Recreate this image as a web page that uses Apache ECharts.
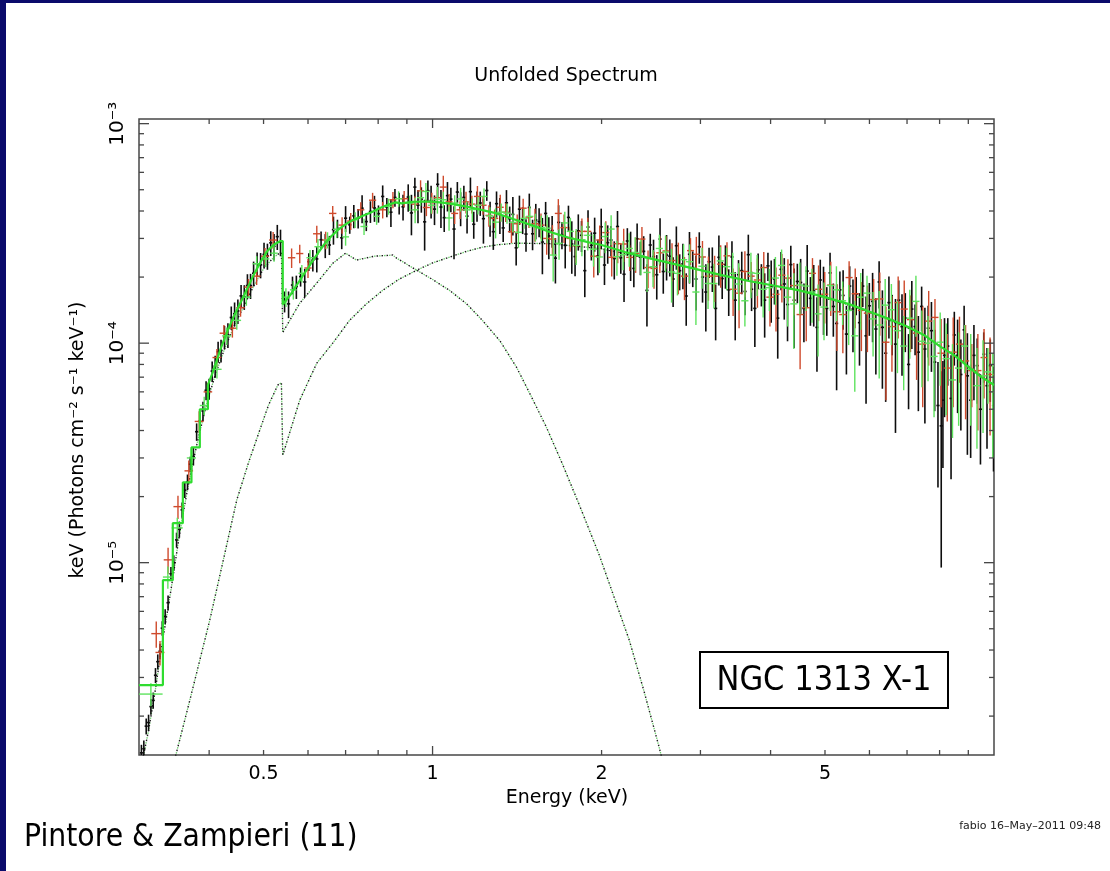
<!DOCTYPE html>
<html>
<head>
<meta charset="utf-8">
<script src="https://cdn.jsdelivr.net/npm/echarts@6.0.0/dist/echarts.min.js"></script>
<style>
  html, body { margin: 0; padding: 0; background: #ffffff; }
  #chart { width: 1110px; height: 871px; }
</style>
</head>
<body>
<div id="chart"></div>
<script>
// Unfolded X-ray spectrum of NGC 1313 X-1: E F(E) vs energy, three detectors,
// best-fit model and its two additive components.

// Flux values below are in units of 1e-4 keV (photons cm^-2 s^-1 keV^-1).
const FLUX_UNIT = 1e-4;

// Detector 1 (black): [energy keV, flux, 1-sigma error]
const blackPts = [
  [0.303,0.0136,0.0012],[0.306,0.0142,0.0013],[0.309,0.0180,0.0015],[0.312,0.0187,0.0016],[0.315,0.0221,0.0018],
  [0.318,0.0236,0.0020],[0.321,0.0307,0.0024],[0.324,0.0354,0.0028],[0.327,0.0395,0.0032],[0.330,0.0503,0.0038],
  [0.334,0.0569,0.0045],[0.338,0.0657,0.0052],[0.342,0.0890,0.0065],[0.346,0.100,0.008],[0.350,0.127,0.010],
  [0.354,0.142,0.012],[0.358,0.174,0.014],[0.362,0.214,0.017],[0.366,0.233,0.019],[0.370,0.281,0.023],
  [0.375,0.305,0.028],[0.380,0.395,0.036],[0.385,0.441,0.042],[0.390,0.491,0.050],[0.395,0.610,0.060],
  [0.400,0.620,0.068],[0.405,0.746,0.080],[0.410,0.786,0.090],[0.415,0.915,0.100],[0.420,0.926,0.110],
  [0.426,1.068,0.13],[0.432,1.091,0.14],[0.438,1.309,0.16],[0.444,1.362,0.17],[0.450,1.402,0.18],
  [0.456,1.642,0.20],[0.462,1.627,0.21],[0.468,1.831,0.23],[0.474,1.829,0.24],[0.480,2.083,0.27],
  [0.487,2.297,0.29],[0.494,2.274,0.30],[0.501,2.537,0.33],[0.508,2.499,0.34],[0.515,2.864,0.37],
  [0.522,2.762,0.38],[0.529,3.057,0.40],[0.536,2.888,0.40],
  [0.545,1.55,0.17],[0.554,1.51,0.21],[0.563,1.84,0.17],[0.572,1.81,0.22],[0.582,2.01,0.20],
  [0.592,1.90,0.28],[0.602,2.35,0.22],[0.612,2.39,0.27],[0.622,2.42,0.32],[0.633,2.96,0.27],
  [0.644,2.79,0.35],[0.655,2.80,0.28],[0.666,3.29,0.48],[0.677,3.33,0.32],[0.689,3.02,0.34],
  [0.700,3.71,0.50],[0.712,3.46,0.31],[0.724,3.80,0.46],[0.737,3.71,0.38],[0.749,4.12,0.60],
  [0.762,3.58,0.34],[0.775,3.98,0.45],[0.788,4.13,0.56],[0.801,3.89,0.35],[0.815,4.66,0.57],
  [0.829,4.17,0.42],[0.843,3.95,0.57],[0.857,4.61,0.43],[0.872,4.35,0.49],[0.886,4.18,0.56],
  [0.905,4.63,0.66],[0.917,3.92,0.82],[0.930,5.14,0.53],[0.942,4.25,0.73],[0.955,4.53,0.60],
  [0.968,3.57,0.93],[0.981,4.95,0.56],[0.994,4.46,0.76],[1.008,4.08,0.63],[1.021,5.29,0.66],
  [1.035,4.17,0.82],[1.049,3.73,0.52],[1.063,4.70,0.72],[1.078,4.53,0.58],[1.092,3.31,0.90],
  [1.107,4.88,0.54],[1.122,4.14,0.73],[1.137,4.61,0.60],[1.152,3.79,0.63],[1.168,4.90,0.78],
  [1.184,3.48,0.49],[1.200,4.24,0.67],[1.216,4.35,0.55],[1.232,3.69,0.85],[1.249,4.96,0.51],
  [1.266,3.73,0.68],[1.283,3.22,0.56],[1.300,4.32,0.59],[1.318,3.86,0.72],[1.336,3.35,0.46],
  [1.354,4.36,0.62],[1.372,3.69,0.50],[1.390,3.86,0.77],[1.409,2.72,0.46],[1.428,4.08,0.62],
  [1.447,3.65,0.51],[1.467,3.14,0.53],[1.487,4.15,0.65],[1.507,3.15,0.50],[1.527,3.64,0.67],
  [1.548,3.58,0.54],[1.569,2.89,0.83],[1.590,3.90,0.50],[1.611,3.08,0.67],[1.633,3.26,0.54],
  [1.655,2.44,0.57],[1.677,3.55,0.70],[1.700,3.12,0.44],[1.723,2.79,0.60],[1.746,3.74,0.49],
  [1.770,2.83,0.76],[1.794,2.48,0.46],[1.818,3.25,0.61],[1.842,3.10,0.50],[1.867,2.14,0.52],
  [1.892,3.38,0.65],[1.918,2.79,0.41],[1.944,3.17,0.56],[1.970,2.50,0.46],[1.997,3.39,0.71],
  [2.024,2.27,0.43],[2.051,2.87,0.57],[2.079,2.95,0.47],[2.107,2.43,0.48],[2.135,3.40,0.60],
  [2.164,2.45,0.38],[2.193,2.06,0.52],[2.223,2.92,0.42],[2.253,2.57,0.65],[2.283,2.19,0.39],
  [2.314,2.99,0.52],[2.345,2.47,0.43],[2.377,2.62,0.45],[2.409,1.74,0.55],[2.442,2.80,0.35],
  [2.475,2.48,0.48],[2.508,2.05,0.47],[2.542,2.98,0.73],[2.576,2.12,0.44],[2.611,2.52,0.59],
  [2.646,2.49,0.48],[2.682,1.96,0.50],[2.718,2.78,0.62],[2.755,2.14,0.40],[2.792,2.30,0.54],
  [2.830,1.64,0.44],[2.868,2.54,0.67],[2.907,2.21,0.41],[2.946,1.96,0.55],[2.986,2.75,0.45],
  [3.026,2.00,0.47],[3.067,1.71,0.58],[3.108,2.35,0.37],[3.150,2.22,0.51],[3.193,1.44,0.41],
  [3.236,2.46,0.63],[3.280,1.97,0.38],[3.324,2.28,0.51],[3.369,1.75,0.42],[3.414,2.47,0.44],
  [3.460,1.57,0.54],[3.507,2.05,0.34],[3.554,2.14,0.47],[3.602,1.72,0.38],[3.651,2.53,0.59],
  [3.700,1.76,0.36],[3.750,1.44,0.48],[3.801,2.16,0.40],[3.852,1.88,0.41],[3.904,1.57,0.51],
  [3.957,2.25,0.33],[4.010,1.81,0.57],[4.064,1.96,0.46],[4.119,1.30,0.45],[4.175,2.17,0.43],
  [4.231,1.86,0.58],[4.288,1.50,0.48],[4.346,2.28,0.50],[4.405,1.57,0.62],[4.464,1.91,0.39],
  [4.525,1.89,0.53],[4.586,1.44,0.43],[4.648,2.13,0.67],[4.710,1.60,0.40],[4.774,1.73,0.54],
  [4.838,1.18,0.44],[4.904,1.94,0.46],[4.970,1.66,0.57],[5.037,1.44,0.36],[5.105,2.09,0.49],
  [5.174,1.47,0.40],[5.244,1.23,0.62],[5.315,1.75,0.37],[5.386,1.65,0.50],[5.459,1.10,0.38],
  [5.533,1.82,0.42],[5.608,1.43,0.52],[5.683,1.67,0.33],[5.760,1.24,0.45],[5.838,1.82,0.36],
  [5.917,1.08,0.55],[5.997,1.48,0.40],[6.078,1.55,0.54],[6.160,1.16,0.44],[6.243,1.90,0.46],
  [6.327,1.18,0.56],[6.413,0.90,0.36],[6.499,1.53,0.48],[6.587,1.27,0.39],[6.676,0.99,0.60],
  [6.766,1.57,0.36],[6.857,1.19,0.48],[6.950,1.30,0.39],[7.044,0.80,0.30],[7.139,1.43,0.49],
  [7.235,1.19,0.31],[7.333,0.91,0.42],[7.432,1.47,0.34],[7.532,0.94,0.51],[7.634,1.17,0.31],
  [7.737,1.14,0.40],[7.841,0.82,0.33],[7.947,0.52,0.30],[8.054,0.42,0.325],[8.110,0.55,0.28],
  [8.163,0.88,0.42],[8.273,0.97,0.33],[8.385,0.56,0.32],[8.498,1.09,0.30],[8.613,0.88,0.40],
  [8.729,0.72,0.32],[8.847,1.15,0.33],[8.966,0.71,0.40],[9.087,0.55,0.25],[9.210,0.88,0.33],
  [9.334,0.79,0.26],[9.460,0.50,0.22],[9.588,0.89,0.23],[9.717,0.64,0.31],[9.848,0.79,0.25],
  [9.981,0.52,0.26]
];

// Detector 2 (red): [energy keV, bin half-width keV, flux, error]
const redPts = [
  [0.322,0.0065,0.0475,0.0065],[0.327,0.0060,0.0390,0.0050],[0.338,0.0060,0.103,0.014],[0.352,0.0065,0.180,0.022],
  [0.368,0.0065,0.262,0.030],[0.384,0.0070,0.44,0.05],[0.398,0.0070,0.60,0.06],[0.413,0.0075,0.86,0.08],
  [0.425,0.0075,1.11,0.10],[0.440,0.0075,1.17,0.11],[0.455,0.0080,1.45,0.13],[0.470,0.0080,1.80,0.16],
  [0.486,0.0080,2.02,0.18],[0.503,0.0085,2.49,0.22],[0.520,0.0085,2.95,0.26],
  [0.561,0.0085,2.45,0.25],[0.580,0.0085,2.56,0.25],[0.600,0.0090,2.20,0.22],[0.622,0.0095,3.15,0.28],
  [0.645,0.0095,2.95,0.27],[0.664,0.0100,3.90,0.32],[0.690,0.0100,3.45,0.30],[0.715,0.0105,3.60,0.32],
  [0.745,0.0110,4.05,0.34],[0.782,0.0115,4.48,0.36],[0.815,0.0120,4.05,0.35],[0.850,0.0125,4.50,0.38],
  [0.890,0.0130,4.55,0.38],[0.930,0.0135,4.30,0.37],[0.975,0.0140,4.15,0.36],[1.020,0.0150,4.60,0.40],
  [1.070,0.0155,4.40,0.38],[1.120,0.0165,4.05,0.37],[1.175,0.0170,4.30,0.40],[1.230,0.0180,4.25,0.40],
  [1.290,0.0190,3.70,0.36],[1.350,0.0200,3.95,0.39],[1.415,0.0210,3.50,0.36],[1.485,0.0220,3.75,0.40],
  [1.560,0.0230,3.45,0.45],[1.635,0.0240,2.98,0.47],[1.715,0.0255,3.36,0.50],[1.800,0.0265,2.78,0.46],
  [1.890,0.0280,3.23,0.50],[1.985,0.0290,2.95,0.49],[2.085,0.0310,2.46,0.45],[2.190,0.0320,2.83,0.49],
  [2.300,0.0340,2.56,0.47],[2.420,0.0360,2.21,0.43],[2.540,0.0370,2.58,0.49],[2.670,0.0390,2.38,0.47],
  [2.810,0.0410,2.02,0.45],[2.950,0.0430,2.54,0.51],[3.100,0.0460,2.02,0.46],[3.260,0.0480,2.29,0.50],
  [3.430,0.0500,1.76,0.43],[3.600,0.0530,2.12,0.50],[3.790,0.0560,1.94,0.49],[3.990,0.0590,1.62,0.43],
  [4.190,0.0620,2.04,0.51],[4.400,0.0650,1.83,0.49],[4.630,0.0680,1.45,0.43],[4.870,0.0720,1.76,0.50],
  [5.120,0.0760,1.84,0.51],[5.380,0.0800,1.35,0.45],[5.660,0.0840,1.68,0.51],[5.950,0.0880,1.37,0.46],
  [6.260,0.0930,1.59,0.51],[6.580,0.0970,1.19,0.45],[6.920,0.1020,1.43,0.50],[7.280,0.1080,1.11,0.43],
  [7.650,0.1130,1.26,0.47],[8.050,0.1190,0.90,0.39],[8.460,0.1250,0.91,0.40],[8.900,0.1310,0.83,0.38],
  [9.360,0.1380,0.75,0.35],[9.840,0.1450,0.72,0.34],
  [0.952,0.0135,4.94,0.58],[0.997,0.0140,4.37,0.48],[1.045,0.0150,5.14,0.65],[1.095,0.0155,3.90,0.41],
  [1.147,0.0165,4.40,0.50],[1.202,0.0170,4.66,0.54],[1.260,0.0180,3.82,0.43],[1.320,0.0190,4.16,0.58],
  [1.382,0.0200,3.22,0.36],[1.450,0.0210,4.12,0.43],[1.522,0.0220,3.50,0.60],[1.597,0.0230,3.00,0.47],
  [1.675,0.0240,3.90,0.63],[1.757,0.0255,3.00,0.39],[1.845,0.0265,3.23,0.47],[1.937,0.0280,2.49,0.50],
  [2.035,0.0290,3.19,0.40],[2.137,0.0310,2.84,0.53],[2.245,0.0320,2.46,0.33],[2.360,0.0340,2.98,0.40],
  [2.480,0.0360,2.19,0.42],[2.605,0.0370,2.63,0.44],[2.740,0.0390,2.27,0.60],[2.880,0.0410,2.64,0.37],
  [3.025,0.0430,2.47,0.45],[3.180,0.0460,2.02,0.48],[3.345,0.0480,2.50,0.38],[3.515,0.0500,1.69,0.52],
  [3.695,0.0530,2.02,0.32],[3.890,0.0560,2.21,0.39],[4.090,0.0590,1.67,0.54],[4.295,0.0620,1.98,0.43],
  [4.515,0.0650,1.35,0.59],[4.750,0.0680,2.08,0.36],[4.995,0.0720,1.67,0.44],[5.250,0.0760,1.39,0.47],
  [5.520,0.0800,1.99,0.37],[5.805,0.0840,1.41,0.49],[6.105,0.0880,1.58,0.38],[6.420,0.0930,1.01,0.46],
  [6.750,0.0970,1.53,0.48],[7.100,0.1020,1.28,0.37],[7.465,0.1080,0.99,0.48],[7.850,0.1130,1.31,0.28],
  [8.255,0.1190,0.77,0.33],[8.680,0.1250,0.99,0.33],[9.130,0.1310,0.75,0.24],[9.600,0.1380,0.86,0.30]
];

// Detector 3 (green): [energy keV, bin half-width keV, flux, error]
const greenPts = [
  [0.315,0.0155,0.0252,0.0030],[0.3377,0.0068,0.086,0.010],[0.351,0.0080,0.144,0.016],[0.372,0.0070,0.300,0.030],
  [0.392,0.0070,0.52,0.05],[0.413,0.0080,0.76,0.07],[0.430,0.0080,1.08,0.10],[0.448,0.0080,1.27,0.12],
  [0.466,0.0080,1.62,0.14],[0.486,0.0080,2.30,0.19],[0.504,0.0080,2.42,0.20],[0.522,0.0080,2.57,0.22],
  [0.548,0.0070,1.62,0.16],[0.565,0.0080,1.75,0.17],[0.585,0.0080,2.08,0.19],[0.605,0.0090,2.45,0.21],
  [0.625,0.0090,2.75,0.23],[0.650,0.0090,2.95,0.25],[0.675,0.0100,3.30,0.28],[0.700,0.0100,3.05,0.27],
  [0.728,0.0100,3.65,0.30],[0.755,0.0110,3.40,0.29],[0.795,0.0110,3.78,0.32],[0.835,0.0120,4.20,0.35],
  [0.870,0.0130,4.55,0.37],[0.910,0.0130,4.35,0.35],[0.952,0.0140,4.60,0.38],[0.995,0.0140,4.25,0.36],
  [1.045,0.0150,4.50,0.39],[1.095,0.0160,4.35,0.37],[1.150,0.0170,4.05,0.36],[1.205,0.0180,4.25,0.39],
  [1.265,0.0190,3.80,0.36],[1.325,0.0200,3.95,0.38],[1.390,0.0210,3.55,0.35],[1.455,0.0220,3.70,0.38],
  [1.525,0.0230,3.40,0.49],[1.600,0.0240,3.34,0.49],[1.680,0.0250,2.85,0.45],[1.760,0.0260,3.23,0.49],
  [1.845,0.0280,2.96,0.47],[1.935,0.0290,2.68,0.45],[2.030,0.0300,3.06,0.49],[2.130,0.0320,2.48,0.45],
  [2.240,0.0340,2.70,0.47],[2.350,0.0350,2.50,0.46],[2.470,0.0370,2.23,0.43],[2.600,0.0390,2.60,0.49],
  [2.730,0.0410,2.08,0.43],[2.870,0.0430,2.35,0.47],[3.020,0.0450,2.24,0.47],[3.170,0.0480,1.87,0.43],
  [3.340,0.0500,2.23,0.49],[3.510,0.0530,1.86,0.45],[3.690,0.0550,2.09,0.49],[3.880,0.0580,1.76,0.45],
  [4.080,0.0610,1.98,0.49],[4.290,0.0640,1.62,0.43],[4.510,0.0680,1.84,0.49],[4.740,0.0710,1.71,0.47],
  [4.980,0.0750,1.46,0.43],[5.240,0.0790,1.75,0.49],[5.510,0.0830,1.41,0.43],[5.790,0.0870,1.62,0.47],
  [6.090,0.0910,1.29,0.42],[6.400,0.0960,1.49,0.47],[6.730,0.1010,1.14,0.41],[7.080,0.1060,1.30,0.45],
  [7.440,0.1120,1.02,0.39],[7.820,0.1170,0.87,0.41],[8.220,0.1230,0.85,0.38],[8.650,0.1300,0.77,0.35],
  [9.090,0.1360,0.76,0.34],[9.560,0.1430,0.71,0.32],[9.950,0.0500,0.60,0.30],
  [0.931,0.0135,4.05,0.53],[0.973,0.0140,4.91,0.45],[1.020,0.0150,4.52,0.63],[1.070,0.0155,3.72,0.47],
  [1.122,0.0160,4.54,0.56],[1.177,0.0170,4.06,0.50],[1.235,0.0180,4.66,0.41],[1.295,0.0190,3.56,0.56],
  [1.357,0.0200,3.91,0.41],[1.422,0.0210,3.20,0.48],[1.490,0.0220,3.78,0.42],[1.562,0.0230,3.36,0.45],
  [1.640,0.0240,2.52,0.61],[1.720,0.0250,3.53,0.44],[1.802,0.0260,2.79,0.52],[1.890,0.0280,3.10,0.46],
  [1.982,0.0290,2.47,0.38],[2.080,0.0300,3.31,0.52],[2.185,0.0320,2.53,0.38],[2.295,0.0340,2.59,0.45],
  [2.410,0.0350,2.10,0.39],[2.535,0.0370,2.70,0.42],[2.665,0.0390,2.11,0.58],[2.800,0.0410,2.40,0.42],
  [2.945,0.0430,1.71,0.50],[3.095,0.0450,1.87,0.44],[3.255,0.0480,2.37,0.37],[3.425,0.0500,2.08,0.50],
  [3.600,0.0530,1.56,0.37],[3.785,0.0550,2.08,0.44],[3.980,0.0580,1.79,0.39],[4.185,0.0610,2.26,0.41],
  [4.400,0.0640,1.51,0.57],[4.625,0.0680,1.82,0.42],[4.860,0.0710,1.36,0.49],[5.110,0.0750,1.83,0.43],
  [5.375,0.0790,1.56,0.35],[5.650,0.0830,1.08,0.48],[5.940,0.0870,1.69,0.34],[6.245,0.0910,1.21,0.52],
  [6.565,0.0960,1.42,0.44],[6.905,0.1010,0.97,0.36],[7.260,0.1060,1.55,0.48],[7.630,0.1120,1.00,0.33],
  [8.020,0.1170,1.01,0.37],[8.435,0.1230,0.68,0.31],[8.870,0.1300,0.97,0.24],[9.325,0.1360,0.64,0.31],
  [9.755,0.1430,0.74,0.21]
];

// Total model (binned at low energy), [energy keV, flux]
const modelPts = [
  [0.300,0.0277],[0.3309,0.0277],[0.3309,0.0832],[0.3446,0.0832],[0.3446,0.1513],[0.3591,0.1513],
  [0.3591,0.232],[0.372,0.232],[0.372,0.335],[0.385,0.335],[0.385,0.50],[0.398,0.50],[0.398,0.646],
  [0.405,0.724],[0.410,0.794],[0.420,0.955],[0.432,1.148],[0.444,1.349],[0.456,1.549],[0.468,1.778],
  [0.480,2.042],[0.494,2.344],[0.508,2.630],[0.522,2.818],[0.536,2.917],[0.541,2.92],[0.541,1.50],
  [0.545,1.50],[0.560,1.68],[0.580,1.93],[0.600,2.20],[0.620,2.50],[0.640,2.80],[0.660,3.07],
  [0.680,3.30],[0.700,3.48],[0.720,3.63],[0.750,3.80],[0.780,3.96],[0.810,4.15],[0.840,4.30],
  [0.860,4.38],[0.880,4.33],[0.920,4.40],[0.960,4.42],[1.00,4.41],[1.05,4.36],[1.10,4.28],
  [1.15,4.19],[1.20,4.09],[1.30,3.90],[1.40,3.66],[1.50,3.45],[1.60,3.24],[1.75,3.02],[1.90,2.88],
  [2.00,2.80],[2.20,2.60],[2.43,2.44],[2.70,2.29],[3.00,2.15],[3.30,2.03],[3.66,1.92],[4.00,1.84],
  [4.50,1.74],[5.00,1.62],[5.50,1.51],[5.92,1.41],[6.50,1.29],[7.00,1.19],[7.50,1.09],[8.00,0.97],
  [8.50,0.88],[9.00,0.78],[9.50,0.70],[10.0,0.645]
];

// Soft thermal (disc) component
const discPts = [
  [0.303,0.0119],[0.312,0.0172],[0.321,0.0266],[0.330,0.0431],[0.342,0.075],[0.354,0.133],[0.366,0.216],
  [0.380,0.342],[0.395,0.518],[0.410,0.715],[0.426,0.94],[0.444,1.21],[0.462,1.49],[0.480,1.82],
  [0.501,2.20],[0.522,2.47],[0.538,2.60],[0.541,2.60],[0.541,1.12],[0.545,1.12],[0.580,1.52],
  [0.622,1.88],[0.664,2.31],[0.700,2.57],[0.712,2.50],[0.732,2.39],[0.788,2.49],[0.849,2.52],
  [0.863,2.44],[0.937,2.15],[1.00,1.95],[1.072,1.74],[1.15,1.51],[1.227,1.27],[1.32,1.02],
  [1.411,0.777],[1.50,0.57],[1.595,0.414],[1.70,0.285],[1.826,0.183],[1.982,0.108],[2.10,0.071],
  [2.241,0.0443],[2.38,0.026],[2.535,0.0143],[2.60,0.011]
];

// Hard (comptonised) component
const hardPts = [
  [0.345,0.0119],[0.350,0.0137],[0.3695,0.0236],[0.401,0.0547],[0.424,0.103],[0.448,0.193],[0.470,0.285],
  [0.492,0.40],[0.510,0.52],[0.530,0.644],[0.538,0.66],[0.541,0.66],[0.541,0.309],[0.545,0.315],
  [0.580,0.55],[0.622,0.811],[0.664,1.0],[0.712,1.273],[0.76,1.50],[0.815,1.74],[0.87,1.95],
  [0.937,2.15],[1.00,2.32],[1.072,2.465],[1.15,2.62],[1.227,2.737],[1.31,2.81],[1.411,2.855],
  [1.615,2.84],[1.982,2.70],[2.43,2.43],[3.00,2.15],[3.66,1.92],[4.50,1.74],[5.92,1.41],[7.50,1.09],
  [8.50,0.88],[10.0,0.645]
];

// Axis ticks and labels
const xMinorTicks = [0.4, 0.5, 0.6, 0.7, 0.8, 0.9, 2, 3, 4, 5, 6, 7, 8, 9];
const xMajorTicks = [1];
const xTickLabels = [0.5, 1, 2, 5];
const yMajorTicks = [1e-5, 1e-4, 1e-3];
const yMinorTicks = [
  2e-6, 3e-6, 4e-6, 5e-6, 6e-6, 7e-6, 8e-6, 9e-6,
  2e-5, 3e-5, 4e-5, 5e-5, 6e-5, 7e-5, 8e-5, 9e-5,
  2e-4, 3e-4, 4e-4, 5e-4, 6e-4, 7e-4, 8e-4, 9e-4
];
const yTickLabels = { '1e-5': '10\u207B\u2075', '1e-4': '10\u207B\u2074', '1e-3': '10\u207B\u00B3' };

const X_MIN = 0.3, X_MAX = 10;
const Y_MIN = 1.33e-6, Y_MAX = 1.05e-3;

const FONT = '"DejaVu Sans", "Liberation Sans", sans-serif';
const AXIS_COLOR = '#474747';

function errorBars(name, pts, withWidth, color, lw, capPx, z) {
  const data = pts.map(p => withWidth
    ? [p[0], p[2] * FLUX_UNIT, p[1], p[3] * FLUX_UNIT]
    : [p[0], p[1] * FLUX_UNIT, 0, p[2] * FLUX_UNIT]);
  return {
    name, type: 'custom', coordinateSystem: 'cartesian2d', clip: true, z,
    data, encode: { x: 0, y: 1 }, silent: true,
    renderItem(params, api) {
      const e = api.value(0), f = api.value(1), de = api.value(2), err = api.value(3);
      const c = api.coord([e, f]);
      const lo = api.coord([e, Math.max(f - err, 1e-12)]);
      const hi = api.coord([e, f + err]);
      let xl = c[0] - capPx, xr = c[0] + capPx;
      if (de > 0) {
        xl = api.coord([e - de, f])[0];
        xr = api.coord([e + de, f])[0];
      }
      const st = { stroke: color, lineWidth: lw };
      return {
        type: 'group',
        children: [
          { type: 'line', shape: { x1: c[0], y1: lo[1], x2: c[0], y2: hi[1] }, style: st },
          { type: 'line', shape: { x1: xl, y1: c[1], x2: xr, y2: c[1] }, style: st }
        ]
      };
    }
  };
}

function curve(name, pts, color, width, dash, offset, z) {
  return {
    name, type: 'line', showSymbol: false, symbol: 'none', clip: true, z, silent: true,
    data: pts.map(p => [p[0], p[1] * FLUX_UNIT]),
    lineStyle: { color, width, type: dash || 'solid', dashOffset: offset || 0 }
  };
}

const xTickData = xMinorTicks.map(v => [v, 0]).concat(xMajorTicks.map(v => [v, 1]));
const yTickData = yMinorTicks.map(v => [v, 0]).concat(yMajorTicks.map(v => [v, 1]));

const xTickSeries = {
  type: 'custom', coordinateSystem: 'cartesian2d', clip: false, z: 20, silent: true,
  data: xTickData.map(d => [d[0], 1e-4, d[1]]),
  encode: { x: 0, y: 1 },
  renderItem(params, api) {
    const cs = params.coordSys;
    const v = api.value(0), major = api.value(2);
    const px = api.coord([v, 1e-4])[0];
    const len = major ? 9 : 5;
    const top = cs.y, bot = cs.y + cs.height;
    const st = { stroke: AXIS_COLOR, lineWidth: 1.3 };
    const children = [
      { type: 'line', shape: { x1: px, y1: bot, x2: px, y2: bot - len }, style: st },
      { type: 'line', shape: { x1: px, y1: top, x2: px, y2: top + len }, style: st }
    ];
    if (xTickLabels.indexOf(v) >= 0) {
      children.push({
        type: 'text', x: px, y: bot + 19,
        style: { text: String(v), font: '19px ' + FONT, fill: '#000', align: 'center', verticalAlign: 'middle' }
      });
    }
    return { type: 'group', children };
  }
};

const yTickSeries = {
  type: 'custom', coordinateSystem: 'cartesian2d', clip: false, z: 20, silent: true,
  data: yTickData.map(d => [1, d[0], d[1]]),
  encode: { x: 0, y: 1 },
  renderItem(params, api) {
    const cs = params.coordSys;
    const v = api.value(1), major = api.value(2);
    const py = api.coord([1, v])[1];
    const len = major ? 10 : 5;
    const left = cs.x, right = cs.x + cs.width;
    const st = { stroke: AXIS_COLOR, lineWidth: 1.3 };
    const children = [
      { type: 'line', shape: { x1: left, y1: py, x2: left + len, y2: py }, style: st },
      { type: 'line', shape: { x1: right, y1: py, x2: right - len, y2: py }, style: st }
    ];
    const key = v.toExponential(0).replace('+', '');
    if (major && yTickLabels[key]) {
      children.push({
        type: 'text', x: left - 21, y: py, rotation: Math.PI / 2,
        style: { text: yTickLabels[key], font: '20px ' + FONT, fill: '#000', align: 'center', verticalAlign: 'middle' }
      });
    }
    return { type: 'group', children };
  }
};

const chart = echarts.init(document.getElementById('chart'), null, { renderer: 'canvas' });

chart.setOption({
  animation: false,
  backgroundColor: '#ffffff',
  grid: {
    left: 139, top: 119, width: 855, height: 636,
    show: true, borderColor: AXIS_COLOR, borderWidth: 1.5, backgroundColor: 'transparent'
  },
  xAxis: {
    type: 'log', logBase: 10, min: X_MIN, max: X_MAX,
    axisLine: { show: false }, axisTick: { show: false }, axisLabel: { show: false }, splitLine: { show: false }
  },
  yAxis: {
    type: 'log', logBase: 10, min: Y_MIN, max: Y_MAX,
    axisLine: { show: false }, axisTick: { show: false }, axisLabel: { show: false }, splitLine: { show: false }
  },
  graphic: [
    { type: 'rect', shape: { x: 0, y: 0, width: 1110, height: 3 }, style: { fill: '#0b0b6b' } },
    { type: 'rect', shape: { x: 0, y: 0, width: 6, height: 871 }, style: { fill: '#0b0b6b' } },
    { type: 'text', x: 566, y: 76, style: { text: 'Unfolded Spectrum', font: '19px ' + FONT, fill: '#000', align: 'center', verticalAlign: 'middle' } },
    { type: 'text', x: 567, y: 798, style: { text: 'Energy (keV)', font: '19px ' + FONT, fill: '#000', align: 'center', verticalAlign: 'middle' } },
    { type: 'text', x: 78, y: 440, rotation: Math.PI / 2,
      style: { text: 'keV (Photons cm\u207B\u00B2 s\u207B\u00B9 keV\u207B\u00B9)', font: '19px ' + FONT, fill: '#000', align: 'center', verticalAlign: 'middle' } },
    { type: 'rect', shape: { x: 700, y: 652, width: 248, height: 56 }, style: { fill: '#fff', stroke: '#000', lineWidth: 2 }, z: 50 },
    { type: 'text', x: 824, y: 681, z: 51, style: { text: 'NGC 1313 X-1', font: '34px "DejaVu Sans Condensed", ' + FONT, fill: '#000', align: 'center', verticalAlign: 'middle' } },
    { type: 'text', x: 24, y: 838, style: { text: 'Pintore & Zampieri (11)', font: '31.5px "DejaVu Sans Condensed", ' + FONT, fill: '#000', align: 'left', verticalAlign: 'middle' } },
    { type: 'text', x: 1101, y: 826, style: { text: 'fabio 16\u2013May\u20132011 09:48', font: '11px ' + FONT, fill: '#222', align: 'right', verticalAlign: 'middle' } }
  ],
  series: [
    curve('disc (green)', discPts, '#6fcf6f', 1.3, [1.5, 3.5], 2.5, 2),
    curve('disc', discPts, '#1a1a1a', 1.4, [1.5, 3.5], 0, 3),
    curve('hard (green)', hardPts, '#6fcf6f', 1.3, [1.5, 3.5], 2.5, 2),
    curve('hard', hardPts, '#1a1a1a', 1.4, [1.5, 3.5], 0, 3),
    errorBars('black data', blackPts, false, '#0d0d0d', 1.6, 1.6, 4),
    errorBars('red data', redPts, true, '#cf4a2c', 1.4, 0, 5),
    errorBars('green data', greenPts, true, '#5ee35e', 1.4, 0, 6),
    curve('model', modelPts, '#2fdc2f', 2.2, 'solid', 0, 7),
    xTickSeries,
    yTickSeries
  ]
});
</script>
</body>
</html>
